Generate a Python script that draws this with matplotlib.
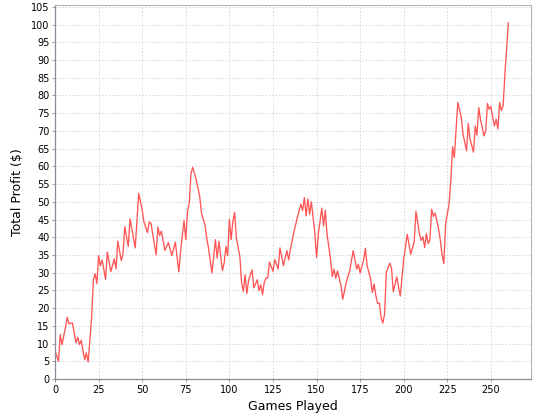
import matplotlib
matplotlib.use("Agg")
import matplotlib.pyplot as plt

# values (game number, total profit)
games = [0, 2, 3, 4, 6, 7, 8, 10, 12, 13, 14, 15, 17, 18, 19,
         21, 22, 23, 24, 25, 26, 27, 29, 30, 32, 34, 35, 36, 38, 39,
         40, 42, 43, 46, 48, 50, 51, 53, 54, 55, 58, 59, 60, 61, 63,
         65, 67, 69, 71, 72, 74, 75, 76, 77, 78, 79, 81, 83, 84, 86,
         87, 88, 90, 92, 93, 94, 96, 97, 98, 99, 100, 101, 102, 103, 104,
         106, 107, 108, 109, 110, 111, 113, 114, 116, 117, 118, 119, 120, 121, 122,
         123, 125, 126, 128, 129, 131, 133, 134, 135, 137, 139, 141, 142, 143, 144,
         145, 146, 147, 149, 150, 151, 153, 154, 155, 156, 158, 159, 160, 161, 162,
         164, 165, 167, 169, 171, 173, 174, 175, 177, 178, 179, 181, 182, 183, 184,
         185, 186, 187, 188, 189, 190, 192, 193, 194, 196, 197, 198, 200, 202, 204,
         206, 207, 209, 210, 211, 212, 213, 214, 215, 216, 217, 218, 220, 221, 222,
         223, 224, 226, 227, 228, 229, 231, 233, 234, 236, 237, 238, 240, 241, 242,
         243, 244, 246, 247, 248, 249, 250, 251, 252, 253, 254, 255, 256, 257, 258,
         259, 260]
profit = [8, 5, 12.5, 9.7, 14.6, 17.4, 15.6, 15.8, 10.2, 11.8, 9.7, 10.9, 5.4, 7.4, 4.8,
          17.4, 28.1, 29.7, 26.9, 34.8, 32, 33.6, 28.1, 35.8, 30.3, 33.9, 31.1, 38.9, 33.4, 35.3,
          43, 37.4, 45.2, 37, 52.4, 47.6, 44.3, 41.3, 44.3, 44, 35, 42.9, 40.5, 41.7, 36.3,
          38.5, 34.8, 38.6, 30.2, 36, 44.7, 39.3, 47.3, 49.7, 58.1, 59.7, 56.2, 51.5, 46.8, 43.5,
          39.8, 37, 29.9, 39.3, 34.1, 38.8, 30.6, 32.7, 37.4, 34.8, 45, 39.3, 44.5, 47, 39.8,
          34.6, 27.1, 24.7, 29.4, 24.1, 27.8, 30.8, 25.7, 28, 24.9, 26.6, 23.8, 27.3, 28.5, 28.5,
          33, 30.4, 33.7, 31, 37, 32, 36.2, 33.6, 36.6, 41.5, 45.6, 49.3, 47.5, 51.2, 46,
          50.8, 46.5, 50, 41.3, 34.3, 40.9, 48.2, 43.2, 47.6, 40.9, 33.8, 28.9, 31, 28.4, 30.5,
          26.3, 22.5, 27.2, 30.5, 36.2, 31, 32.4, 29.9, 33.6, 36.9, 31.9, 28.2, 24.4, 26.8, 23.5,
          21.3, 21.4, 17.4, 15.8, 18.3, 30.1, 32.7, 31.2, 24.6, 28.8, 26, 23.4, 34, 40.8, 35.2,
          38.7, 47.3, 41, 39.1, 40.1, 37.1, 41, 38.2, 39.3, 47.9, 45.9, 46.8, 42.4, 39.1, 34.9,
          32.6, 43.8, 49.4, 56, 65.5, 62.5, 78, 73.8, 69.1, 64.4, 72.1, 67.7, 64, 71.4, 68.8,
          76.6, 73.3, 68.6, 70, 77.7, 76.1, 76.9, 73.8, 71.4, 73.3, 70.5, 78, 75.7, 77.1, 86,
          93.4, 100.5]

x_ticks = list(range(0, 251, 25))
y_ticks = list(range(0, 106, 5))

fig = plt.figure(figsize=(5.4, 4.2), dpi=100)
ax = fig.add_axes([0.1019, 0.0976, 0.8815, 0.8912])

ax.plot(games, profit, color="#ff5555", linewidth=0.95)

ax.set_xlim(0, 273)
ax.set_ylim(0, 105.6)
ax.set_xticks(x_ticks)
ax.set_yticks(y_ticks)

# dashed light grid like the original
ax.grid(True, color="#d4d4d4", linestyle=(0, (2, 2)), linewidth=0.6)
ax.set_axisbelow(True)

for side in ["top", "right"]:
    ax.spines[side].set_color("#b4b4b4")
    ax.spines[side].set_linewidth(0.8)
for side in ["left", "bottom"]:
    ax.spines[side].set_color("#8a8a9a")
    ax.spines[side].set_linewidth(0.9)

ax.tick_params(axis="both", labelsize=7, length=2, width=0.6, color="#8a8a8a", pad=2)
ax.set_xlabel("Games Played", fontsize=9, labelpad=4)
ax.set_ylabel("Total Profit ($)", fontsize=9, labelpad=5)

fig.savefig("out.png", dpi=100)
